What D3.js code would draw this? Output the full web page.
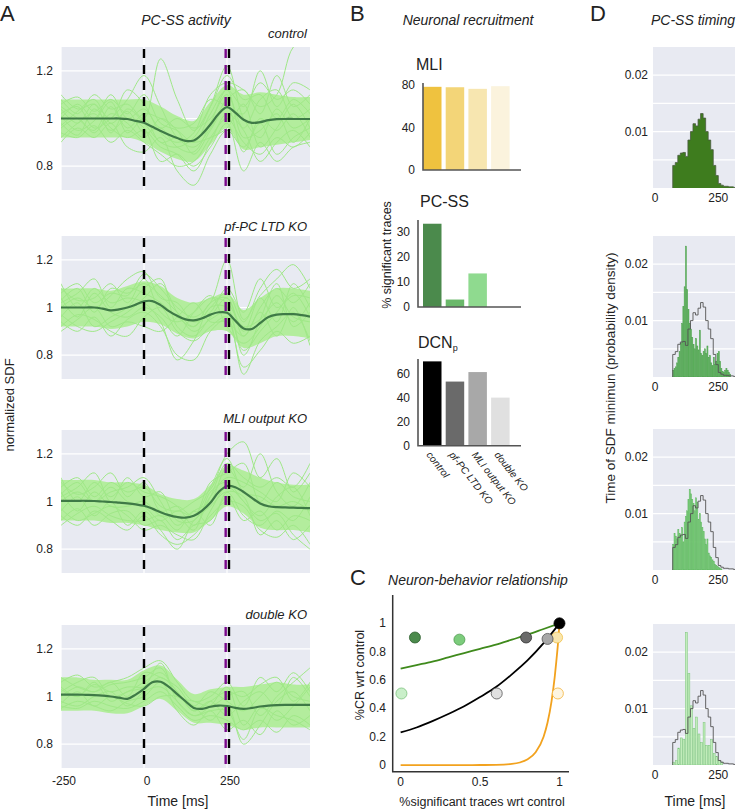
<!DOCTYPE html>
<html><head><meta charset="utf-8">
<script src="https://cdn.jsdelivr.net/npm/d3@7"></script>
<style>body{margin:0;background:#fff}svg{display:block}text{font-family:"Liberation Sans",Arial,sans-serif;fill:#222}</style>
</head><body><svg id="c" width="740" height="811"></svg>
<script>
// ---------------- DATA ----------------
const conditions = ["control", "pf-PC LTD KO", "MLI output KO", "double KO"];
const timeTicks = [-250, 0, 250];
const sdfYTicks = [0.8, 1, 1.2];
const csTimes = [0];
const usTimesPurple = [246];
const usTimesBlack = [256];

const meanTimes = [-250,-225,-200,-175,-150,-125,-100,-75,-50,-25,0,25,50,75,100,125,150,175,200,225,250,275,300,325,350,375,400,425,450,475,500];
const meanControl = [1.0,1.0,1.0,1.0,1.0,1.0,1.0,1.0,0.998,0.99,0.982,0.965,0.948,0.932,0.918,0.906,0.908,0.935,0.975,1.02,1.048,1.025,0.995,0.982,0.985,0.993,0.997,0.998,0.998,0.998,0.998];
const meanLTD = [1.0,1.0,1.0,1.0,1.0,0.995,0.988,0.992,1.0,1.012,1.026,1.027,1.01,0.985,0.965,0.95,0.946,0.955,0.97,0.98,0.978,0.945,0.912,0.91,0.935,0.96,0.97,0.972,0.972,0.968,0.962];
const meanMLI = [1.003,1.003,1.003,1.003,1.002,1.0,0.998,0.995,0.992,0.988,0.982,0.97,0.955,0.943,0.935,0.932,0.94,0.962,0.995,1.04,1.065,1.06,1.04,1.015,0.992,0.98,0.976,0.975,0.974,0.973,0.972];
const meanDouble = [1.008,1.008,1.008,1.007,1.006,1.004,1.0,0.995,0.99,1.008,1.032,1.06,1.062,1.04,1.01,0.98,0.952,0.948,0.957,0.962,0.96,0.952,0.948,0.952,0.958,0.962,0.964,0.965,0.965,0.965,0.965];

const traceTimes = [-250,-200,-150,-100,-50,0,50,100,150,200,250,300,350,400,450,500];
const coreUpperControl = [1.08,1.08,1.08,1.08,1.08,1.08,1.05,1.01,0.99,1.07,1.14,1.1,1.11,1.1,1.09,1.09];
const coreLowerControl = [0.92,0.92,0.92,0.92,0.92,0.9,0.86,0.83,0.82,0.89,0.96,0.87,0.88,0.89,0.9,0.91];
const coreUpperLTD = [1.08,1.08,1.08,1.07,1.09,1.11,1.09,1.04,1.02,1.04,1.06,0.99,1.04,1.08,1.08,1.07];
const coreLowerLTD = [0.92,0.92,0.92,0.91,0.92,0.94,0.93,0.89,0.87,0.9,0.9,0.83,0.85,0.88,0.88,0.87];
const coreUpperMLI = [1.09,1.09,1.09,1.08,1.08,1.07,1.03,1.01,1.01,1.07,1.15,1.13,1.1,1.08,1.07,1.07];
const coreLowerMLI = [0.92,0.92,0.92,0.91,0.91,0.9,0.88,0.87,0.87,0.92,0.98,0.95,0.89,0.88,0.88,0.87];
const coreUpperDouble = [1.08,1.08,1.07,1.07,1.07,1.11,1.13,1.07,1.01,1.03,1.04,1.04,1.05,1.06,1.05,1.05];
const coreLowerDouble = [0.94,0.94,0.94,0.93,0.93,0.96,0.99,0.94,0.89,0.89,0.88,0.86,0.87,0.87,0.87,0.87];

const tracesControl = [
 [1.06,1.09,1.03,1.08,1.02,1.10,0.98,0.95,0.90,1.02,1.12,1.05,1.15,1.08,1.12,1.06],
 [0.94,0.92,0.97,0.90,0.95,0.90,0.85,0.80,0.82,0.92,1.00,0.90,0.85,0.92,0.88,0.94],
 [1.02,1.05,0.96,1.00,1.08,1.18,1.05,0.92,0.88,0.96,1.08,1.12,1.02,1.18,1.05,1.10],
 [0.98,0.93,1.04,0.96,0.92,0.95,0.88,0.85,0.78,0.90,1.02,0.95,0.82,0.90,0.95,0.88],
 [1.08,1.02,1.10,1.04,1.06,1.00,1.25,1.08,0.95,1.05,1.18,1.08,1.10,1.00,1.08,1.02],
 [0.90,0.96,0.92,0.98,0.88,0.86,0.92,0.78,0.72,0.85,0.95,0.88,0.98,0.85,0.92,0.96],
 [1.00,1.06,1.00,1.10,1.00,1.04,0.96,1.00,0.96,1.00,1.10,0.96,1.08,1.12,1.00,1.04],
 [1.04,0.98,1.06,0.94,1.04,0.98,0.90,0.88,0.92,1.05,1.22,1.00,0.92,1.04,0.96,1.00],
 [0.96,1.00,0.94,1.02,0.98,0.92,1.00,0.95,0.85,0.95,1.05,0.86,1.00,0.95,1.02,0.92],
 [1.10,1.04,1.06,1.00,1.12,1.06,0.94,0.90,0.94,1.10,1.15,1.12,1.05,1.10,1.30,1.34],
 [0.92,0.98,1.02,0.95,1.00,0.96,0.82,0.85,0.80,0.88,0.98,0.78,0.90,0.82,0.88,0.90],
 [1.05,1.00,0.95,1.05,0.96,1.02,1.00,0.96,0.98,1.08,1.05,1.02,1.20,1.05,1.15,1.12],
 [0.97,1.03,1.08,0.98,1.03,0.94,0.96,0.88,0.86,0.98,1.12,0.92,0.95,1.02,0.90,1.00],
 [1.01,0.95,0.99,1.07,0.94,1.00,0.90,0.92,0.90,0.92,0.96,1.06,0.88,0.96,1.06,0.96]
];
const tracesLTD = [
 [1.06,1.10,1.02,1.06,1.05,1.14,1.08,1.00,0.96,1.02,1.20,0.95,1.05,1.12,1.18,1.08],
 [0.94,0.90,0.96,0.88,0.95,0.98,0.92,0.80,0.78,0.90,0.95,0.75,0.82,0.90,0.85,0.88],
 [1.02,1.06,1.12,1.00,1.08,1.06,1.02,0.96,0.92,1.02,1.04,0.88,1.00,1.08,1.02,1.10],
 [0.97,0.92,0.90,0.94,0.98,1.04,1.10,0.98,0.90,0.95,0.98,0.82,0.90,0.98,1.06,0.96],
 [1.08,1.03,1.04,1.10,1.02,1.12,0.98,0.94,0.98,1.04,1.02,0.92,0.95,1.02,0.94,1.02],
 [0.92,0.97,0.95,0.90,0.88,0.96,1.00,0.90,0.86,0.92,0.96,0.72,0.86,0.92,0.98,0.86],
 [1.00,1.04,1.00,1.05,1.12,1.15,1.04,1.02,0.94,0.98,1.08,0.98,1.12,1.00,1.05,1.04],
 [1.04,0.96,1.06,0.98,0.96,1.00,0.96,0.88,0.98,1.05,0.92,0.85,0.92,1.05,0.96,0.94],
 [0.96,1.02,0.92,0.96,1.00,1.08,1.12,0.92,0.88,0.96,1.04,0.90,1.04,0.94,1.10,1.00],
 [1.10,1.00,1.08,1.02,1.04,1.02,0.94,0.78,0.86,1.00,1.00,0.80,0.95,1.10,0.92,0.98],
 [0.90,0.95,1.00,0.92,0.94,0.92,0.90,0.96,1.02,0.94,0.94,0.88,0.98,0.88,1.00,0.84],
 [1.03,1.08,0.98,1.08,1.06,1.10,1.05,0.98,0.92,1.00,1.06,0.94,1.08,1.16,1.08,1.12]
];
const tracesMLI = [
 [1.06,1.10,1.02,1.08,1.04,1.06,0.98,0.96,1.00,1.05,1.20,1.25,1.10,1.18,1.04,1.12],
 [0.94,0.90,0.96,0.92,0.88,0.94,0.86,0.82,0.86,0.94,1.00,0.98,0.88,0.85,0.90,0.82],
 [1.02,1.06,1.12,1.00,1.10,1.02,1.04,0.92,0.92,1.02,1.10,1.08,1.04,1.00,1.12,1.06],
 [0.97,0.92,0.95,0.98,0.94,0.88,0.90,0.86,0.84,0.96,1.06,1.00,0.92,0.95,0.86,0.80],
 [1.08,1.03,1.06,1.12,1.02,1.08,0.96,0.98,0.94,1.08,1.12,1.16,1.00,1.08,1.02,1.00],
 [0.92,0.97,0.90,0.95,0.96,0.90,0.92,0.84,0.90,0.92,1.02,0.92,0.96,0.88,0.94,0.92],
 [1.00,1.04,1.00,1.04,1.06,1.10,1.00,0.90,0.96,1.00,1.14,1.06,1.20,1.04,0.98,1.08],
 [1.04,0.96,1.04,0.98,0.98,1.00,0.94,0.94,0.88,1.04,1.08,1.00,0.94,1.02,1.06,0.94],
 [0.96,1.02,0.94,1.00,0.90,0.96,0.88,0.80,0.92,0.98,1.04,0.94,0.90,0.96,0.92,1.02],
 [1.10,1.00,1.08,1.02,1.08,1.04,1.02,0.98,0.90,1.02,1.16,1.10,1.06,1.10,1.06,1.16],
 [0.90,0.95,0.98,0.94,0.92,0.92,0.94,0.88,0.96,0.90,1.04,1.02,0.86,0.92,0.84,0.90],
 [1.03,1.08,1.00,1.06,1.00,0.98,0.92,0.96,0.94,1.06,1.18,1.04,1.02,0.98,1.00,0.96]
];
const tracesDouble = [
 [1.06,1.09,1.04,1.06,1.08,1.12,1.15,1.06,0.98,1.00,1.06,0.96,1.08,1.02,1.10,1.02],
 [0.96,0.95,0.98,0.96,0.95,0.98,1.02,0.96,0.90,0.92,0.90,0.86,0.90,0.85,0.92,0.88],
 [1.02,1.06,1.08,1.00,1.02,1.06,1.10,1.02,0.94,0.98,1.02,1.00,1.05,1.08,0.98,1.06],
 [0.98,0.96,1.00,1.02,0.96,1.02,1.04,0.98,0.92,0.94,0.94,0.82,0.95,0.92,0.90,0.86],
 [1.08,1.04,1.02,1.05,1.06,1.08,1.12,1.00,0.98,0.96,1.00,1.02,0.92,1.00,1.06,1.12],
 [0.95,0.98,0.96,0.94,0.98,1.00,1.06,0.94,0.88,0.94,0.86,0.90,0.84,0.94,0.88,0.92],
 [1.00,1.04,1.02,1.06,1.00,1.10,1.08,1.04,0.96,1.02,0.98,0.94,1.00,1.06,1.00,0.98],
 [1.04,1.00,1.06,0.98,1.02,1.04,1.14,0.98,0.92,0.96,1.04,0.88,0.96,0.90,0.96,1.04],
 [0.97,1.02,0.96,1.00,0.97,0.96,1.00,1.00,0.96,0.90,0.96,0.80,0.88,0.98,1.02,0.94],
 [1.03,1.00,1.05,1.02,1.04,1.04,1.08,1.02,0.94,0.98,0.92,0.98,1.02,0.96,1.08,1.00]
];

// Panel B
const mliPct = [78.4, 78, 76.5, 79];
const pcssPct = [33.5, 3, 13.5, 0];
const dcnPct = [71, 54, 62, 40.5];
const mliTicks = [0, 40, 80];
const pcssTicks = [0, 10, 20, 30];
const dcnTicks = [0, 20, 40, 60];

// Panel C
const fitX = [0,0.1,0.2,0.3,0.4,0.5,0.6,0.7,0.8,0.9,1.0];
const fitPCSS = [0.68,0.705,0.73,0.76,0.79,0.82,0.85,0.885,0.92,0.96,1.0];
const fitDCN = [0.23,0.265,0.31,0.36,0.415,0.48,0.55,0.64,0.74,0.86,1.0];
const fitMLIx = [0,0.1,0.2,0.3,0.4,0.5,0.6,0.7,0.75,0.8,0.85,0.9,0.925,0.95,0.97,0.98,0.99,1.0];
const fitMLIy = [0,0,0,0,0,0.0003,0.0017,0.008,0.018,0.041,0.09,0.2,0.3,0.45,0.62,0.73,0.85,1.0];
const pcssPtX = [0.005, 0.37, 0.09];
const pcssPtY = [0.505, 0.885, 0.9];
const dcnPtX = [0.605, 0.925, 0.79, 1.0];
const dcnPtY = [0.505, 0.89, 0.9, 1.0];
const mliPtX = [0.99, 0.985];
const mliPtY = [0.505, 0.9];
const cXTicks = [0, 0.5, 1];
const cYTicks = [0, 0.2, 0.4, 0.6, 0.8, 1];

// Panel D
const binStart10 = [70,80,90,100,110,120,130,140,150,160,170,180,190,200,210,220,230,240,250,260,270,280,290,300,310];
const densControl = [0.0040,0.0045,0.0058,0.0062,0.0063,0.0056,0.0085,0.0100,0.0114,0.0110,0.0122,0.0132,0.0124,0.0100,0.0085,0.0068,0.0040,0.0022,0.0008,0.0005,0.0003,0.0003,0.0002,0.0002,0.0001];
const binStartLTD = [70,75,80,85,90,95,100,105,110,115,120,125,130,135,140,145,150,155,160,165,170,175,180,185,190,195,200,205,210,215,220,225,230,235,240,245,250,255,260,265,270,275,280,285,290,295];
const densLTD = [0.0012,0.0015,0.0018,0.0025,0.0035,0.0045,0.006,0.0095,0.0125,0.016,0.0232,0.0155,0.012,0.0095,0.0085,0.007,0.0058,0.005,0.0068,0.0055,0.0048,0.0083,0.0042,0.0038,0.0045,0.005,0.0042,0.0055,0.0035,0.0038,0.0025,0.002,0.0035,0.0022,0.0028,0.0042,0.0045,0.0028,0.0015,0.001,0.0008,0.0012,0.0015,0.0012,0.0008,0.0005];
const binStartMLI = [70,75,80,85,90,95,100,105,110,115,120,125,130,135,140,145,150,155,160,165,170,175,180,185,190,195,200,205,210,215,220,225,230,235,240,245,250,255,260];
const densMLI = [0.0045,0.0065,0.006,0.0055,0.0072,0.0065,0.0062,0.0075,0.005,0.0085,0.0095,0.0105,0.0125,0.0143,0.0135,0.0125,0.0118,0.0105,0.0128,0.012,0.009,0.01,0.0085,0.0075,0.0068,0.0055,0.0045,0.0055,0.003,0.0025,0.0022,0.0018,0.0015,0.001,0.0008,0.0006,0.0004,0.0003,0.0002];
const binStartDouble = [70,80,90,100,110,120,130,140,150,160,170,180,190,200,210,220,230,240,250,260];
const densDouble = [0.0005,0.0008,0.003,0.0048,0.0045,0.0235,0.0162,0.0105,0.0065,0.0085,0.0055,0.004,0.0075,0.0035,0.0035,0.0045,0.002,0.0015,0.0008,0.0005];
const dXTicks = [0, 250];
const dYTicks = [0.01, 0.02];
const dGrid = [0.005, 0.01, 0.015, 0.02];

// ---------------- DRAW ----------------
const svg = d3.select("#c");
const defs = svg.append("defs");
function label(x, y, s, o = {}) {
  const t = svg.append("text").attr("x", x).attr("y", y).text(s)
    .attr("font-size", o.size || 12).attr("text-anchor", o.anchor || "start");
  if (o.italic) t.attr("font-style", "italic");
  if (o.rotate !== undefined) t.attr("transform", `rotate(${o.rotate},${x},${y})`);
  return t;
}
const BG = "#e8eaf2";

// Panel letters / titles
label(0, 21, "A", {size: 22});
label(350, 21, "B", {size: 22});
label(350, 585, "C", {size: 22});
label(590, 21, "D", {size: 22});
label(186, 25, "PC-SS activity", {size: 14, italic: true, anchor: "middle"});
label(468, 25, "Neuronal recruitment", {size: 14, italic: true, anchor: "middle"});
label(478, 585, "Neuron-behavior relationship", {size: 14, italic: true, anchor: "middle"});
label(693, 25, "PC-SS timing", {size: 14, italic: true, anchor: "middle"});

// ---- Panel A ----
const means = [meanControl, meanLTD, meanMLI, meanDouble];
const uppers = [coreUpperControl, coreUpperLTD, coreUpperMLI, coreUpperDouble];
const lowers = [coreLowerControl, coreLowerLTD, coreLowerMLI, coreLowerDouble];
const traces = [tracesControl, tracesLTD, tracesMLI, tracesDouble];
const ATops = [47, 236, 430, 625], AH = 143, AX0 = 61, AX1 = 310;
const subBase = [38, 231, 423, 619];
const xA = d3.scaleLinear().domain([-250, 500]).range([AX0, AX1]);
conditions.forEach((c, i) => {
  const top = ATops[i];
  const y = d3.scaleLinear().domain([0.7, 1.3]).range([top + AH, top]);
  defs.append("clipPath").attr("id", "cA" + i).append("rect")
    .attr("x", AX0).attr("y", top).attr("width", AX1 - AX0).attr("height", AH);
  const g = svg.append("g");
  g.append("rect").attr("x", AX0).attr("y", top).attr("width", AX1 - AX0).attr("height", AH).attr("fill", BG);
  sdfYTicks.forEach(v => g.append("line").attr("x1", AX0).attr("x2", AX1).attr("y1", y(v)).attr("y2", y(v)).attr("stroke", "#fff").attr("stroke-width", 1.2));
  timeTicks.forEach(v => g.append("line").attr("x1", xA(v)).attr("x2", xA(v)).attr("y1", top).attr("y2", top + AH).attr("stroke", "#fff").attr("stroke-width", 1.2));
  const pg = g.append("g").attr("clip-path", `url(#cA${i})`);
  const area = d3.area().x((d, j) => xA(traceTimes[j])).y0((d, j) => y(lowers[i][j])).y1(d => y(d)).curve(d3.curveCatmullRom);
  pg.append("path").attr("d", area(uppers[i])).attr("fill", "#b3ed9d");
  const line = d3.line().x((d, j) => xA(traceTimes[j])).y(d => y(d)).curve(d3.curveCatmullRom);
  traces[i].forEach(tr => pg.append("path").attr("d", line(tr)).attr("fill", "none").attr("stroke", "#9fe887").attr("stroke-width", 1));
  const mline = d3.line().x((d, j) => xA(meanTimes[j])).y(d => y(d)).curve(d3.curveCatmullRom);
  pg.append("path").attr("d", mline(means[i])).attr("fill", "none").attr("stroke", "#3e7a46").attr("stroke-width", 2.2);
  const dash = (t, col) => g.append("line").attr("x1", xA(t)).attr("x2", xA(t)).attr("y1", top + 2).attr("y2", top + AH)
    .attr("stroke", col).attr("stroke-width", 2.4).attr("stroke-dasharray", "9,7");
  csTimes.forEach(t => dash(t, "#000"));
  usTimesPurple.forEach(t => dash(t, "#7a0a8c"));
  usTimesBlack.forEach(t => dash(t, "#000"));
  sdfYTicks.forEach(v => label(53, y(v) + 4, v === 1 ? "1" : String(v), {anchor: "end"}));
  label(307, subBase[i], c, {size: 13, italic: true, anchor: "end"});
  if (i === 3) timeTicks.forEach(v => label(xA(v) + 3, top + AH + 17, String(v), {anchor: "middle"}));
});
label(14, 405, "normalized SDF", {size: 13, anchor: "middle", rotate: -90});
label(178, 806, "Time [ms]", {size: 14, anchor: "middle"});

// ---- Panel B ----
const xB = d3.scaleBand().domain(conditions).range([423, 509.6]).paddingInner(0.185);
const bPanels = [
  {vals: mliPct, ticks: mliTicks, dom: [0, 82], bottom: 170, top: 83, ax: 423, colors: ["#efc23f", "#f3d578", "#f7e6b0", "#fbf3dd"]},
  {vals: pcssPct, ticks: pcssTicks, dom: [0, 35], bottom: 307, top: 220, ax: 418, colors: ["#4b8a4c", "#6ab86a", "#8fda8f", "#c8efc8"]},
  {vals: dcnPct, ticks: dcnTicks, dom: [0, 73], bottom: 445.7, top: 359, ax: 418, colors: ["#000000", "#6a6a6a", "#a8a8a8", "#e0e0e0"]}
];
bPanels.forEach(p => {
  const y = d3.scaleLinear().domain(p.dom).range([p.bottom, p.top]);
  svg.append("g").selectAll("rect").data(p.vals).join("rect")
    .attr("x", (d, j) => xB(conditions[j])).attr("width", xB.bandwidth())
    .attr("y", d => y(d)).attr("height", d => p.bottom - y(d)).attr("fill", (d, j) => p.colors[j]);
  svg.append("path").attr("d", `M${p.ax},${p.top}V${p.bottom}H521`).attr("fill", "none").attr("stroke", "#555").attr("stroke-width", 1.6);
  p.ticks.forEach(v => label(p.ax - 8, y(v) + 4, String(v), {anchor: "end"}));
});
label(416, 70, "MLI", {size: 16});
label(420, 207, "PC-SS", {size: 16});
const dcnT = label(418, 348, "DCN", {size: 16});
dcnT.append("tspan").attr("font-size", 9).attr("dy", 3).text("p");
conditions.forEach(c => label(xB(c) + 3, 455, c, {size: 10, italic: true, rotate: 52}));
label(391, 255, "% significant traces", {size: 12.5, anchor: "middle", rotate: -90});

// ---- Panel C ----
const xC = d3.scaleLinear().domain([-0.05, 1.06]).range([392.7, 569]);
const yC = d3.scaleLinear().domain([-0.047, 1.2]).range([771.7, 595]);
svg.append("path").attr("d", `M${xC(-0.05)},${yC(1.2)}V${yC(-0.047)}H${xC(1.06)}`).attr("fill", "none").attr("stroke", "#333").attr("stroke-width", 1.5);
cXTicks.forEach(v => label(xC(v), 786, String(v), {anchor: "middle"}));
cYTicks.forEach(v => label(386, yC(v) + 4, String(v), {anchor: "end"}));
const cLine = (xs, ys, col) => svg.append("path")
  .attr("d", d3.line().x((d, j) => xC(xs[j])).y(d => yC(d)).curve(d3.curveMonotoneX)(ys))
  .attr("fill", "none").attr("stroke", col).attr("stroke-width", 1.8);
cLine(fitMLIx, fitMLIy, "#f2a21e");
cLine(fitX, fitPCSS, "#3f8a1c");
cLine(fitX, fitDCN, "#000");
const dots = (xs, ys, fills, strokes) => xs.forEach((v, j) =>
  svg.append("circle").attr("cx", xC(v)).attr("cy", yC(ys[j])).attr("r", 5.5)
    .attr("fill", fills[j]).attr("stroke", strokes[j]).attr("stroke-width", 0.8));
dots(mliPtX, mliPtY, ["#fdf5e2", "#f8e5ad"], ["#f3b33a", "#f0c24a"]);
dots(pcssPtX, pcssPtY, ["#c9efc9", "#7ccc7c", "#4b8a4c"], ["#7cc27c", "#4c9a4c", "#2f5f2f"]);
dots(dcnPtX, dcnPtY, ["#e0e0e0", "#a8a8a8", "#6a6a6a", "#000"], ["#555", "#555", "#333", "#000"]);
label(364, 675, "%CR wrt control", {size: 12.5, anchor: "middle", rotate: -90});
label(482, 806, "%significant traces wrt control", {size: 12.5, anchor: "middle"});

// ---- Panel D ----
const DTops = [47, 236, 429, 624], DH = 141, DX0 = 653, DX1 = 735;
const xD = d3.scaleLinear().domain([-8, 316]).range([DX0, DX1]);
const hists = [
  null,
  {starts: binStartLTD, vals: densLTD, w: 5, fill: "#63b863", stroke: "#4d9f4d"},
  {starts: binStartMLI, vals: densMLI, w: 5, fill: "#80d080", stroke: "#5cb65c"},
  {starts: binStartDouble, vals: densDouble, w: 10, fill: "#c2ecbb", stroke: "#78c578"}
];
DTops.forEach((top, i) => {
  const y = d3.scaleLinear().domain([0, 0.025]).range([top + DH, top]);
  defs.append("clipPath").attr("id", "cD" + i).append("rect").attr("x", DX0).attr("y", top).attr("width", DX1 - DX0).attr("height", DH);
  svg.append("rect").attr("x", DX0).attr("y", top).attr("width", DX1 - DX0).attr("height", DH).attr("fill", BG);
  dGrid.forEach(v => svg.append("line").attr("x1", DX0).attr("x2", DX1).attr("y1", y(v)).attr("y2", y(v)).attr("stroke", "#fff").attr("stroke-width", 1.2));
  const g = svg.append("g").attr("clip-path", `url(#cD${i})`);
  const ctrlX = [binStart10[0]].concat(binStart10, [binStart10[binStart10.length - 1] + 10]);
  const ctrlY = [0].concat(densControl, [0]);
  const step = d3.line().x((d, j) => xD(ctrlX[j])).y(d => y(d)).curve(d3.curveStepAfter);
  if (i === 0) {
    const ar = d3.area().x((d, j) => xD(ctrlX[j])).y0(y(0)).y1(d => y(d)).curve(d3.curveStepAfter);
    g.append("path").attr("d", ar(ctrlY)).attr("fill", "#3e7c1e");
    g.append("path").attr("d", step(ctrlY)).attr("fill", "none").attr("stroke", "#4a5a40").attr("stroke-width", 0.8);
  } else {
    const h = hists[i];
    h.vals.forEach((v, j) => {
      const x0 = xD(h.starts[j]), x1 = xD(h.starts[j] + h.w);
      g.append("rect").attr("x", x0).attr("width", Math.max(0.5, x1 - x0 - (i === 3 ? 0.6 : 0.2)))
        .attr("y", y(v)).attr("height", y(0) - y(v)).attr("fill", h.fill).attr("stroke", h.stroke).attr("stroke-width", 0.5);
    });
    g.append("path").attr("d", step(ctrlY)).attr("fill", "none").attr("stroke", "#555").attr("stroke-width", 0.9);
  }
  dYTicks.forEach(v => label(648, y(v) + 4, String(v), {anchor: "end"}));
  dXTicks.forEach(v => label(xD(v), top + DH + 14, String(v), {anchor: "middle"}));
});
label(615, 378, "Time of SDF minimun (probability density)", {size: 13.5, anchor: "middle", rotate: -90});
label(695, 806, "Time [ms]", {size: 14, anchor: "middle"});
</script></body></html>
